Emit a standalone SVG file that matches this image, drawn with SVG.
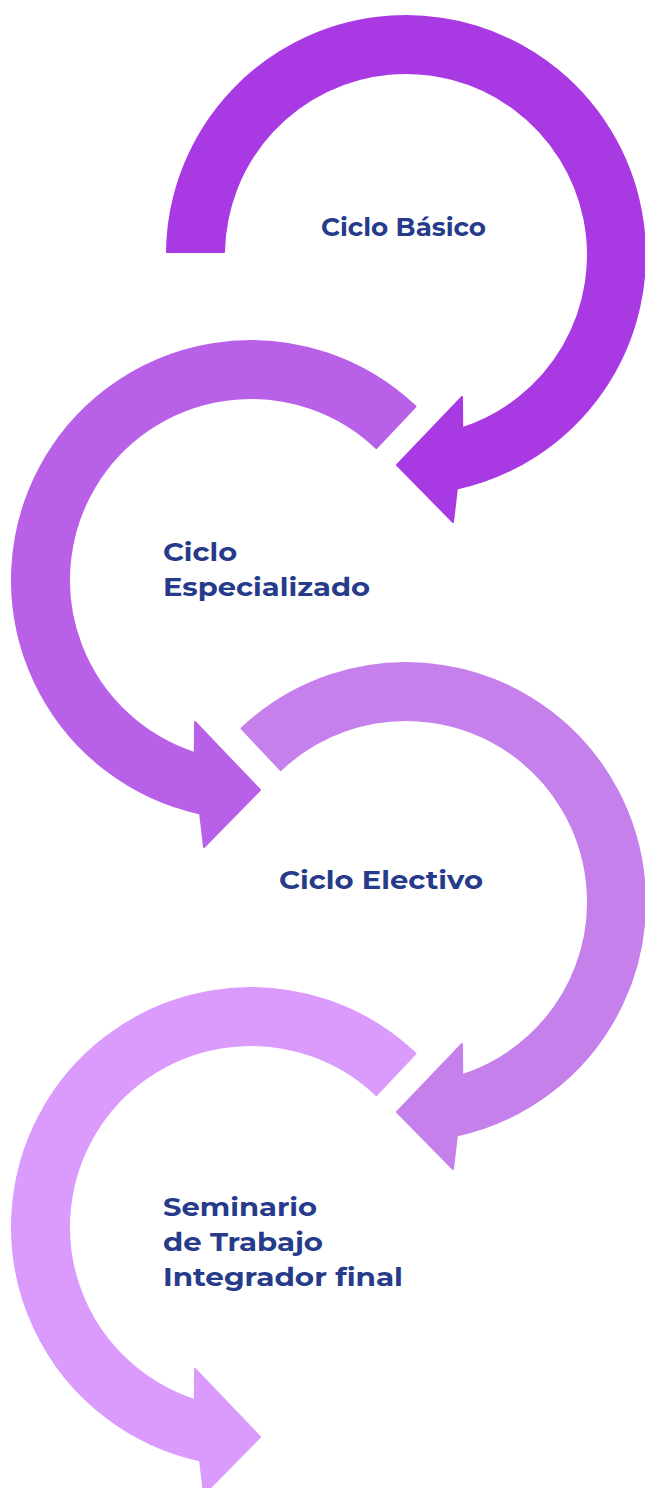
<svg xmlns="http://www.w3.org/2000/svg" width="645" height="1488" viewBox="0 0 645 1488">
  <style>
    .arrow { stroke-width: 2; stroke-linejoin: round; }
    .a1 { fill: #A93AE3; stroke: #A93AE3; }
    .a2 { fill: #B960E8; stroke: #B960E8; }
    .a3 { fill: #C580EC; stroke: #C580EC; }
    .a4 { fill: #DA9BFC; stroke: #DA9BFC; }
    .label { font-family: "Montserrat", "DejaVu Sans", "Liberation Sans", sans-serif; font-weight: bold; font-size: 26px; fill: #263B8A; }
  </style>
  <rect width="645" height="1488" fill="#FFFFFF"/>
  <g id="ciclo-basico">
    <path class="arrow a1" d="M167,252 A239,239 0 1,1 456.9,488.5 L453,522 L397,465 L462,397 L462.2,428.1 A182,182 0 1,0 224,252 Z"/>
    <text class="label" x="321" y="236" textLength="165" lengthAdjust="spacingAndGlyphs">Ciclo Básico</text>
  </g>
  <g id="ciclo-especializado">
    <path class="arrow a2" d="M415.5,406.6 A239,239 0 1,0 200.1,813.5 L204,847 L260,790 L195,722 L194.8,753.1 A182,182 0 1,1 376.3,448 Z"/>
    <text class="label" x="163" y="561" textLength="74" lengthAdjust="spacingAndGlyphs">Ciclo</text>
    <text class="label" x="163" y="596" textLength="207" lengthAdjust="spacingAndGlyphs">Especializado</text>
  </g>
  <g id="ciclo-electivo">
    <path class="arrow a3" d="M241.5,728.6 A239,239 0 1,1 456.9,1135.5 L453,1169 L397,1112 L462,1044 L462.2,1075.1 A182,182 0 1,0 280.7,770 Z"/>
    <text class="label" x="279" y="889" textLength="204" lengthAdjust="spacingAndGlyphs">Ciclo Electivo</text>
  </g>
  <g id="seminario">
    <path class="arrow a4" d="M415.5,1053.6 A239,239 0 1,0 200.1,1460.5 L204,1494 L260,1437 L195,1369 L194.8,1400.1 A182,182 0 1,1 376.3,1095 Z"/>
    <text class="label" x="163" y="1216" textLength="154" lengthAdjust="spacingAndGlyphs">Seminario</text>
    <text class="label" x="163" y="1251" textLength="160" lengthAdjust="spacingAndGlyphs">de Trabajo</text>
    <text class="label" x="163" y="1286" textLength="240" lengthAdjust="spacingAndGlyphs">Integrador final</text>
  </g>
  <g id="connectors"/>
</svg>
